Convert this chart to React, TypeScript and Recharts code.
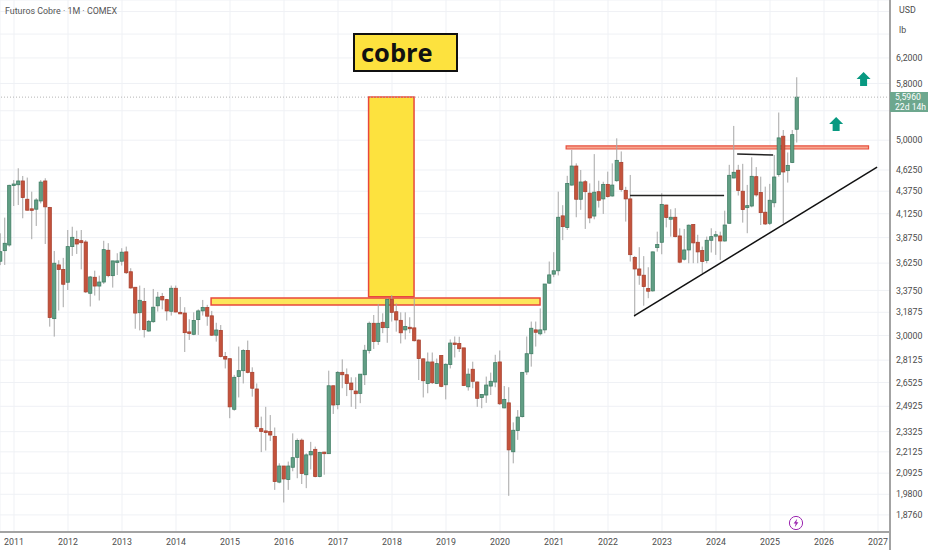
import React from 'react';
import {
  ComposedChart,
  Bar,
  XAxis,
  YAxis,
  CartesianGrid,
  ReferenceArea,
  ReferenceLine,
  ReferenceDot,
} from 'recharts';

// monthly candles, Oct 2010 .. Jul 2025 (first candle sits 3 months before the 2011 tick)
const opens = [
  3.643, 3.745, 3.801,
  4.450, 4.450, 4.494, 4.284, 4.178, 4.174, 4.265, 4.494, 4.193, 3.135, 3.608, 3.566,
  3.448, 3.785, 3.857, 3.844, 3.831, 3.350, 3.493, 3.414, 3.450, 3.749, 3.508, 3.640,
  3.643, 3.733, 3.544, 3.403, 3.184, 3.278, 3.035, 3.110, 3.242, 3.322, 3.295, 3.196,
  3.394, 3.187, 3.181, 3.028, 3.009, 3.127, 3.199, 3.227, 3.158, 3.002, 3.040, 2.840,
  2.823, 2.473, 2.694, 2.736, 2.884, 2.724, 2.608, 2.351, 2.337, 2.333, 2.304, 2.044,
  2.132, 2.058, 2.125, 2.181, 2.281, 2.084, 2.195, 2.227, 2.074, 2.211, 2.202, 2.630,
  2.503, 2.724, 2.707, 2.649, 2.594, 2.578, 2.707, 2.884, 3.097, 2.953, 3.105, 3.062,
  3.298, 3.192, 3.121, 3.044, 3.065, 3.060, 2.964, 2.822, 2.646, 2.799, 2.646, 2.847,
  2.637, 2.780, 2.941, 2.938, 2.904, 2.623, 2.746, 2.656, 2.551, 2.567, 2.628, 2.656,
  2.799, 2.482, 2.515, 2.213, 2.339, 2.426, 2.727, 2.860, 3.044, 3.013, 3.044, 3.440,
  3.522, 3.553, 4.102, 3.978, 4.446, 4.673, 4.284, 4.485, 4.353, 4.100, 4.370, 4.288,
  4.454, 4.321, 4.497, 4.718, 4.385, 4.288, 3.680, 3.570, 3.512, 3.392, 3.371, 3.775,
  3.828, 4.220, 4.066, 4.087, 3.892, 3.662, 3.752, 4.010, 3.828, 3.746, 3.649, 3.848,
  3.892, 3.892, 3.841, 4.023, 4.529, 4.622, 4.375, 4.191, 4.209, 4.545, 4.360, 4.141,
  4.023, 4.245, 4.570, 5.052, 4.617, 4.717, 5.145,
];
const highs = [
  3.919, 4.083, 4.450,
  4.505, 4.646, 4.553, 4.534, 4.370, 4.296, 4.505, 4.526, 4.200, 3.742, 3.652, 3.675,
  3.953, 3.987, 3.946, 3.953, 3.850, 3.505, 3.554, 3.508, 3.843, 3.819, 3.646, 3.720,
  3.769, 3.785, 3.577, 3.403, 3.418, 3.397, 3.124, 3.388, 3.362, 3.353, 3.301, 3.418,
  3.418, 3.318, 3.230, 3.130, 3.187, 3.212, 3.292, 3.250, 3.199, 3.101, 3.083, 2.873,
  2.823, 2.706, 2.914, 2.894, 2.960, 2.760, 2.646, 2.426, 2.489, 2.436, 2.358, 2.147,
  2.132, 2.157, 2.322, 2.291, 2.291, 2.204, 2.271, 2.243, 2.213, 2.213, 2.736, 2.632,
  2.733, 2.818, 2.752, 2.689, 2.689, 2.711, 2.927, 3.111, 3.165, 3.257, 3.179, 3.306,
  3.335, 3.261, 3.187, 3.187, 3.146, 3.306, 2.969, 2.824, 2.869, 2.869, 2.824, 2.847,
  2.789, 2.969, 2.992, 2.990, 2.904, 2.752, 2.801, 2.659, 2.571, 2.694, 2.722, 2.852,
  2.884, 2.628, 2.620, 2.390, 2.468, 2.724, 2.992, 3.111, 3.111, 3.220, 3.432, 3.640,
  3.730, 4.370, 4.218, 4.555, 4.875, 4.706, 4.625, 4.505, 4.466, 4.821, 4.497, 4.485,
  4.605, 4.706, 5.024, 4.855, 4.426, 4.565, 3.692, 3.779, 3.692, 3.586, 3.736, 3.936,
  4.352, 4.223, 4.174, 4.185, 3.970, 3.964, 4.010, 4.010, 3.904, 3.785, 3.885, 3.971,
  3.943, 3.936, 4.158, 4.688, 5.190, 4.688, 4.700, 4.448, 4.781, 4.660, 4.545, 4.428,
  4.460, 4.810, 5.375, 5.135, 4.842, 5.135, 5.895,
];
const lows = [
  3.606, 3.608, 3.785,
  4.209, 4.220, 4.076, 4.160, 3.859, 3.995, 4.238, 3.811, 3.070, 2.991, 3.202, 3.230,
  3.379, 3.694, 3.713, 3.566, 3.353, 3.236, 3.330, 3.287, 3.433, 3.493, 3.400, 3.514,
  3.602, 3.523, 3.391, 3.053, 3.040, 2.984, 3.030, 3.101, 3.194, 3.212, 3.119, 3.160,
  3.187, 3.178, 2.873, 2.965, 3.002, 3.004, 3.160, 3.077, 2.996, 2.952, 2.833, 2.752,
  2.416, 2.464, 2.551, 2.646, 2.717, 2.556, 2.349, 2.211, 2.220, 2.276, 2.003, 2.038,
  1.938, 2.003, 2.103, 2.065, 2.034, 2.012, 2.113, 2.070, 2.070, 2.084, 2.200, 2.443,
  2.473, 2.613, 2.560, 2.489, 2.475, 2.513, 2.635, 2.862, 2.896, 2.927, 3.018, 2.943,
  3.111, 3.030, 2.938, 2.969, 3.018, 2.953, 2.670, 2.551, 2.579, 2.642, 2.642, 2.620,
  2.538, 2.752, 2.832, 2.873, 2.628, 2.597, 2.613, 2.489, 2.480, 2.515, 2.567, 2.620,
  2.501, 2.480, 1.972, 2.147, 2.283, 2.421, 2.706, 2.765, 2.914, 3.000, 3.017, 3.434,
  3.494, 3.510, 3.850, 3.953, 4.440, 4.087, 4.167, 3.964, 4.024, 4.065, 4.192, 4.123,
  4.303, 4.314, 4.485, 4.370, 4.041, 3.640, 3.148, 3.425, 3.243, 3.307, 3.365, 3.736,
  3.710, 3.980, 3.885, 3.878, 3.624, 3.650, 3.624, 3.624, 3.624, 3.530, 3.624, 3.727,
  3.704, 3.655, 3.835, 4.020, 4.526, 4.326, 4.030, 3.920, 4.195, 4.314, 4.005, 4.005,
  4.005, 4.195, 4.545, 4.023, 4.475, 4.709, 4.970,
];
const closes = [
  3.735, 3.818, 4.443,
  4.458, 4.494, 4.303, 4.163, 4.170, 4.276, 4.481, 4.200, 3.144, 3.624, 3.566, 3.430,
  3.785, 3.878, 3.811, 3.824, 3.362, 3.496, 3.414, 3.450, 3.755, 3.508, 3.646, 3.646,
  3.730, 3.535, 3.397, 3.181, 3.289, 3.046, 3.113, 3.230, 3.316, 3.292, 3.199, 3.394,
  3.190, 3.181, 3.022, 3.022, 3.119, 3.199, 3.227, 3.155, 3.002, 3.043, 2.840, 2.820,
  2.489, 2.689, 2.736, 2.884, 2.724, 2.613, 2.363, 2.333, 2.333, 2.312, 2.047, 2.132,
  2.061, 2.132, 2.179, 2.279, 2.091, 2.195, 2.215, 2.074, 2.209, 2.202, 2.630, 2.501,
  2.724, 2.707, 2.646, 2.603, 2.576, 2.711, 2.886, 3.097, 2.953, 3.097, 3.062, 3.296,
  3.187, 3.124, 3.021, 3.071, 3.057, 2.959, 2.824, 2.665, 2.799, 2.651, 2.787, 2.626,
  2.782, 2.941, 2.930, 2.898, 2.632, 2.711, 2.661, 2.545, 2.571, 2.635, 2.661, 2.794,
  2.509, 2.538, 2.224, 2.341, 2.423, 2.724, 2.860, 3.057, 3.025, 3.044, 3.432, 3.515,
  3.553, 4.087, 3.988, 4.465, 4.673, 4.284, 4.482, 4.370, 4.080, 4.364, 4.273, 4.454,
  4.314, 4.446, 4.743, 4.395, 4.288, 3.706, 3.570, 3.512, 3.409, 3.368, 3.733, 3.805,
  4.227, 4.084, 4.087, 3.885, 3.634, 3.752, 4.003, 3.822, 3.733, 3.640, 3.848, 3.885,
  3.905, 3.841, 4.005, 4.561, 4.597, 4.383, 4.170, 4.213, 4.549, 4.333, 4.137, 4.016,
  4.273, 4.541, 5.030, 4.601, 4.681, 5.073, 5.596,
];

const yearTicks = [0, 12, 24, 36, 48, 60, 72, 84, 96, 108, 120, 132, 144, 156, 168, 180, 192];
const yearLabels = ['2011', '2012', '2013', '2014', '2015', '2016', '2017', '2018', '2019', '2020', '2021', '2022', '2023', '2024', '2025', '2026', '2027'];
const priceTicks = [7, 6.6, 6.2, 5.8, 5.4, 5, 4.625, 4.375, 4.125, 3.875, 3.625, 3.375, 3.1875, 3, 2.8125, 2.6525, 2.4925, 2.3325, 2.2125, 2.0925, 1.98, 1.876];
// these grid lines keep no label: USD, lb and the price tag sit over them
const unlabelledTicks = [7, 6.6, 5.4];

const lastPrice = 5.596;

const chartData = opens.map((open, i) => ({
  month: i - 3,
  open,
  high: highs[i],
  low: lows[i],
  close: closes[i],
}));

const AXIS_COLOR = '#a3a3a3';
const LABEL_COLOR = '#4c4c4c';
const FONT = 'Roboto, "Open Sans", sans-serif';

function Candle({ x, y, width, height, payload }: any) {
  const { open, high, low, close } = payload;
  const perLog = height / Math.log(high / low);
  const yOf = (p: number) => y + Math.log(high / p) * perLog;
  const up = close >= open;
  const cx = x + width / 2;
  const top = yOf(Math.max(open, close));
  const bottom = yOf(Math.min(open, close));
  return (
    <g>
      <line x1={cx} x2={cx} y1={y} y2={y + height} stroke="#a6a6a6" strokeWidth={1} />
      <rect
        x={cx - 1.6}
        y={top}
        width={3.2}
        height={Math.max(bottom - top, 1.5)}
        fill={up ? '#629f85' : '#c4533c'}
        stroke={up ? '#3f7d64' : '#a8402e'}
        strokeWidth={0.8}
      />
    </g>
  );
}

function UpArrow({ cx, cy }: any) {
  const d = `M${cx} ${cy - 7} L${cx + 7} ${cy} L${cx + 3.5} ${cy} L${cx + 3.5} ${cy + 7} L${cx - 3.5} ${cy + 7} L${cx - 3.5} ${cy} L${cx - 7} ${cy} Z`;
  return <path d={d} fill="#089981" />;
}

export default function App() {
  return (
    <div style={{ position: 'absolute', left: 0, top: 0, width: 932, height: 550, background: '#fff', overflow: 'hidden', fontFamily: FONT }}>
      <ComposedChart width={932} height={550} data={chartData} margin={{ top: 0, right: 0, bottom: 0, left: 0 }}>
        <CartesianGrid stroke="#eff1f5" strokeWidth={1} />
        <XAxis
          dataKey="month"
          type="number"
          domain={[-3.11, 194.67]}
          allowDataOverflow
          ticks={yearTicks}
          interval={0}
          height={18}
          tickLine={false}
          axisLine={{ stroke: AXIS_COLOR, strokeWidth: 2 }}
          tick={{ fill: LABEL_COLOR, fontSize: 8.8 }}
          tickMargin={1}
          tickFormatter={(v: number) => yearLabels[yearTicks.indexOf(v)]}
        />
        <YAxis
          orientation="right"
          scale="log"
          domain={[1.794, 7.215]}
          allowDataOverflow
          ticks={priceTicks}
          interval={0}
          width={42}
          tickLine={false}
          axisLine={{ stroke: AXIS_COLOR, strokeWidth: 2 }}
          tick={{ fill: LABEL_COLOR, fontSize: 8.8 }}
          tickMargin={0}
          tickFormatter={(v: number) => (unlabelledTicks.includes(v) ? '' : v.toFixed(4).replace('.', ','))}
        />
        <ReferenceLine y={lastPrice} stroke="#b5b5b5" strokeDasharray="1 2" />
        <Bar
          dataKey={(d: any) => [d.low, d.high]}
          barSize={4}
          shape={<Candle />}
          isAnimationActive={false}
        />
        <ReferenceArea x1={78.8} x2={88.9} y1={3.319} y2={5.599} fill="#fde23e" fillOpacity={1} stroke="#e8483c" strokeWidth={1.5} />
        <ReferenceArea x1={43.8} x2={116.9} y1={3.249} y2={3.308} fill="#fde23e" fillOpacity={0.85} stroke="#e8483c" strokeWidth={1.5} />
        <ReferenceArea x1={122.7} x2={189.9} y1={4.886} y2={4.925} fill="#f59c84" fillOpacity={0.9} stroke="#e8503f" strokeWidth={1.2} />
        <ReferenceLine segment={[{ x: 137.8, y: 3.157 }, { x: 191.8, y: 4.66 }]} stroke="#111" strokeWidth={1.5} />
        <ReferenceLine segment={[{ x: 136.9, y: 4.327 }, { x: 157.8, y: 4.327 }]} stroke="#222" strokeWidth={1.5} />
        <ReferenceLine segment={[{ x: 160.7, y: 4.822 }, { x: 168.7, y: 4.81 }]} stroke="#222" strokeWidth={1.5} />
        <ReferenceDot x={188.8} y={5.868} shape={<UpArrow />} />
        <ReferenceDot x={182.7} y={5.216} shape={<UpArrow />} />
      </ComposedChart>

      <div style={{ position: 'absolute', left: 5, top: 6, fontSize: 8.9, color: '#555', whiteSpace: 'nowrap' }}>
        Futuros Cobre · 1M · COMEX
      </div>
      <div style={{ position: 'absolute', left: 353, top: 33, width: 105, height: 39, boxSizing: 'border-box', background: '#fde23e', border: '2px solid #111', fontFamily: '"Open Sans", sans-serif', fontWeight: 700, fontSize: 25.5, lineHeight: '35px', paddingLeft: 6, color: '#111' }}>
        cobre
      </div>
      <div style={{ position: 'absolute', left: 889, top: 532, width: 2, height: 18, background: AXIS_COLOR }} />
      <div style={{ position: 'absolute', left: 899, top: 5, fontSize: 8.8, color: LABEL_COLOR }}>USD</div>
      <div style={{ position: 'absolute', left: 899, top: 25, fontSize: 8.8, color: LABEL_COLOR }}>lb</div>
      <div style={{ position: 'absolute', left: 890, top: 92, width: 38, height: 20, background: '#6da78e', color: '#fff', fontSize: 8.6, lineHeight: '10px', paddingLeft: 5, boxSizing: 'border-box', whiteSpace: 'nowrap' }}>
        <div>5,5960</div>
        <div>22d 14h</div>
      </div>
      <svg style={{ position: 'absolute', left: 788, top: 515 }} width={16} height={16} viewBox="0 0 16 16">
        <circle cx={8} cy={8} r={6.6} fill="#fff" stroke="#9c27b0" strokeWidth={1} />
        <path d="M9.2 3.8 L5.6 8.6 L7.7 8.6 L6.8 12.2 L10.4 7.2 L8.3 7.2 Z" fill="#9c27b0" />
      </svg>
    </div>
  );
}
